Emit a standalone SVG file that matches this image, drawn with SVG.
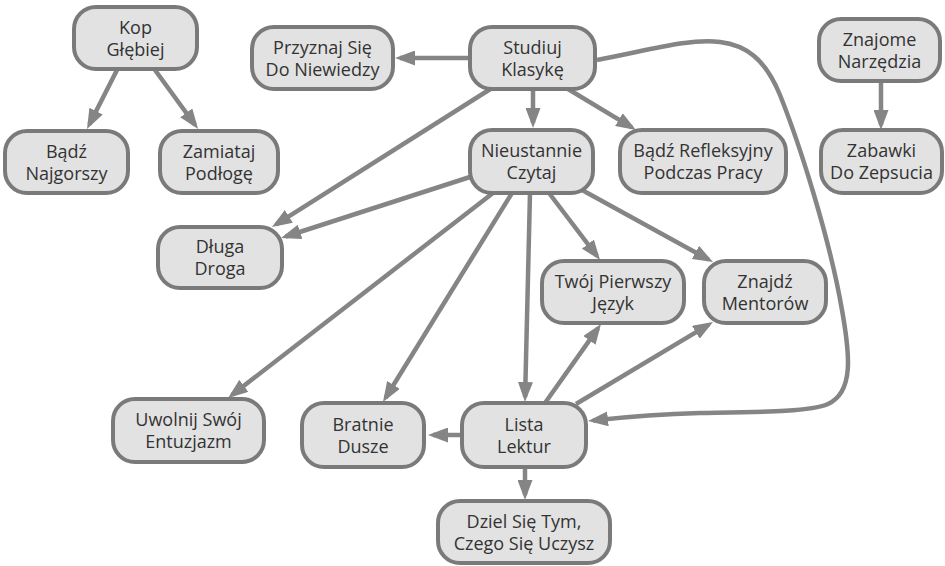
<svg xmlns="http://www.w3.org/2000/svg" width="945" height="566" viewBox="0 0 945 566">
<style>
.bg{fill:#ffffff}
.node rect{fill:#e2e2e2;stroke:#7a7a7a;stroke-width:4}
.node text{font-family:"Open Sans","Noto Sans",sans-serif;font-size:18px;fill:#333333;text-anchor:middle}
.edges path{fill:none;stroke:#858585;stroke-width:4.5;marker-end:url(#arr)}
</style>
<defs>
<marker id="arr" markerUnits="userSpaceOnUse" markerWidth="20" markerHeight="15" refX="15" refY="7.5" orient="auto">
<path d="M0,0 L20,7.5 L0,15 z" fill="#858585"/>
</marker>
</defs>
<rect class="bg" x="0" y="0" width="945" height="566"/>
<g class="edges">
<path d="M117,70 L89.3,124.5"/>
<path d="M155,70 L195.1,125"/>
<path d="M470,58 L400,58"/>
<path d="M533,89 L533,123"/>
<path d="M568,89 L631.7,127.4"/>
<path d="M492,88 L276.2,224.3"/>
<path d="M470,177 L285.8,236.5"/>
<path d="M493,193 L232,395"/>
<path d="M512,193 L385.6,397.7"/>
<path d="M530,193 L525.1,397"/>
<path d="M549,193 L597,256"/>
<path d="M582,190 L708.6,259.6"/>
<path d="M545,403 L598.1,328.1"/>
<path d="M576,404 L708.7,324.6"/>
<path d="M597,60 C650,50 690,38 720,42 C745,45 765,58 780,95 C800,145 830,240 842,310 C850,355 854,392 828,404 C810,412 760,412 700,413 C660,414 625,417 593,420.5"/>
<path d="M462,435 L433,435"/>
<path d="M525,467 L525,495"/>
<path d="M881,82 L881,125"/>
</g>
<g id="kop" class="node"><rect x="74" y="7" width="123" height="62" rx="22"/><text x="135.5" y="34">Kop<tspan x="135.5" dy="22">Głębiej</tspan></text></g>
<g id="przyznaj" class="node"><rect x="252" y="27" width="141" height="62" rx="22"/><text x="322.5" y="54">Przyznaj Się<tspan x="322.5" dy="22">Do Niewiedzy</tspan></text></g>
<g id="studiuj" class="node"><rect x="470" y="27" width="125" height="62" rx="22"/><text x="532.5" y="54">Studiuj<tspan x="532.5" dy="22">Klasykę</tspan></text></g>
<g id="znajome" class="node"><rect x="819" y="19" width="121" height="62" rx="22"/><text x="879.5" y="46">Znajome<tspan x="879.5" dy="22">Narzędzia</tspan></text></g>
<g id="badz-najgorszy" class="node"><rect x="5" y="131" width="123" height="62" rx="22"/><text x="66.5" y="158">Bądź<tspan x="66.5" dy="22">Najgorszy</tspan></text></g>
<g id="zamiataj" class="node"><rect x="160" y="131" width="118" height="62" rx="22"/><text x="219" y="158">Zamiataj<tspan x="219" dy="22">Podłogę</tspan></text></g>
<g id="nieustannie" class="node"><rect x="470" y="130" width="123" height="63" rx="22"/><text x="531.5" y="157">Nieustannie<tspan x="531.5" dy="22">Czytaj</tspan></text></g>
<g id="refleksyjny" class="node"><rect x="620" y="130" width="166" height="63" rx="22"/><text x="703" y="157">Bądź Refleksyjny<tspan x="703" dy="22">Podczas Pracy</tspan></text></g>
<g id="zabawki" class="node"><rect x="821" y="130" width="121" height="63" rx="22"/><text x="881.5" y="157">Zabawki<tspan x="881.5" dy="22">Do Zepsucia</tspan></text></g>
<g id="dluga" class="node"><rect x="158" y="227" width="124" height="61" rx="22"/><text x="220" y="253">Długa<tspan x="220" dy="22">Droga</tspan></text></g>
<g id="twoj" class="node"><rect x="542" y="261" width="142" height="62" rx="22"/><text x="613" y="288">Twój Pierwszy<tspan x="613" dy="22">Język</tspan></text></g>
<g id="znajdz" class="node"><rect x="704" y="261" width="122" height="62" rx="22"/><text x="765" y="288">Znajdź<tspan x="765" dy="22">Mentorów</tspan></text></g>
<g id="uwolnij" class="node"><rect x="113" y="399" width="151" height="63" rx="22"/><text x="188.5" y="426">Uwolnij Swój<tspan x="188.5" dy="22">Entuzjazm</tspan></text></g>
<g id="bratnie" class="node"><rect x="302" y="403" width="122" height="64" rx="22"/><text x="363" y="431">Bratnie<tspan x="363" dy="22">Dusze</tspan></text></g>
<g id="lista" class="node"><rect x="462" y="403" width="124" height="64" rx="22"/><text x="524" y="431">Lista<tspan x="524" dy="22">Lektur</tspan></text></g>
<g id="dziel" class="node"><rect x="438" y="501" width="172" height="62" rx="22"/><text x="524" y="528">Dziel Się Tym,<tspan x="524" dy="22">Czego Się Uczysz</tspan></text></g>
</svg>
